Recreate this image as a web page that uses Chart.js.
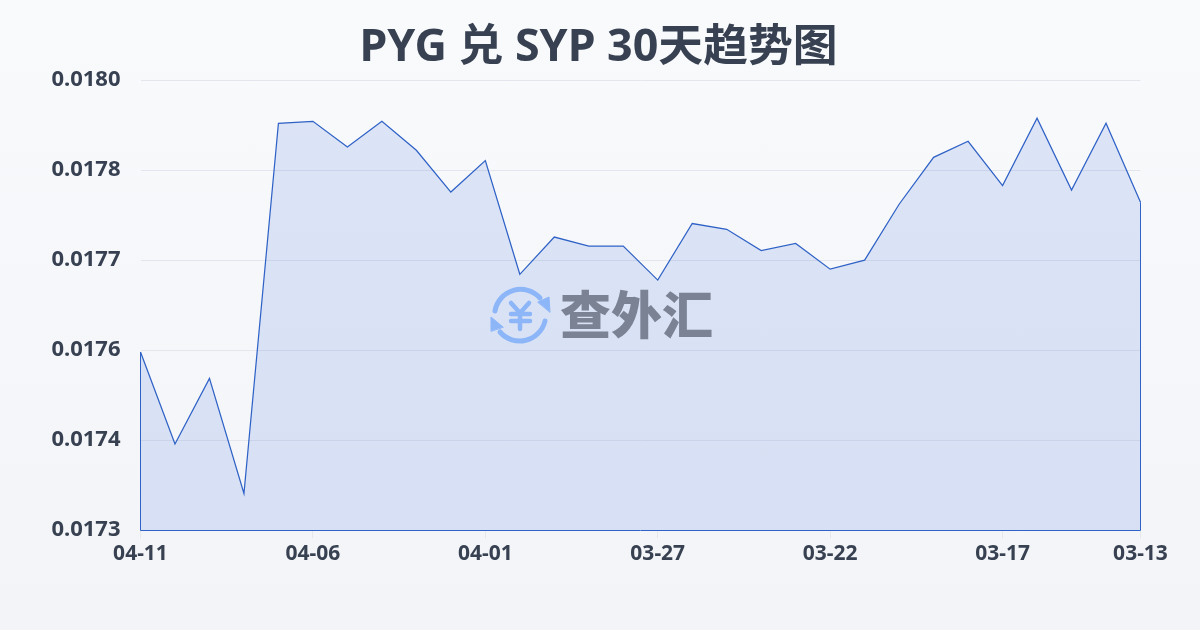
<!DOCTYPE html>
<html>
<head>
<meta charset="utf-8">
<title>PYG 兑 SYP 30天趋势图</title>
<script src="https://cdn.jsdelivr.net/npm/chart.js@4/dist/chart.umd.min.js"></script>
<style>
    html, body { margin: 0; padding: 0; }
    body { width: 1200px; height: 630px; overflow: hidden; position: relative; background: linear-gradient(180deg, #f9fafc 0%, #f2f4f7 100%); }
    #chart { position: absolute; left: 0; top: 0; }
    #title { position: absolute; left: 0; top: 13px; width: 1197px; text-align: center; font: bold 44.8px/62px "Noto Sans", "Noto Sans CJK SC", sans-serif; color: #374151; white-space: nowrap; }
    #logo { position: absolute; left: 488px; top: 282px; }
    #logoText { position: absolute; left: 560px; top: 275px; font: 900 51px/74px "Noto Sans CJK SC", sans-serif; color: #7a8294; white-space: nowrap; }
</style>
</head>
<body>
<canvas id="chart" width="1200" height="630"></canvas>
<div id="title">PYG 兑 SYP 30天趋势图</div>
<svg id="logo" width="66" height="66" viewBox="488 282 66 66" fill="none" stroke="#8db6f8" stroke-width="5" stroke-linecap="round" stroke-linejoin="round">
    <path d="M495 311 A26 26 0 0 1 540 298"/>
    <path d="M545 321 A26 26 0 0 1 500 332"/>
    <path d="M538 302 L549 297 L550 312 Z" fill="#8db6f8" stroke-width="1"/>
    <path d="M503 327 L491 317 L491 331 Z" fill="#8db6f8" stroke-width="1"/>
    <path d="M511 303 L520 313 L529 303 M511 314 H530 M511 321 H530 M520 313 V329" stroke-width="4.5"/>
</svg>
<div id="logoText">查外汇</div>
<script>
const categories = [
    "04-11", "04-10", "04-09", "04-08", "04-07", "04-06", "04-05", "04-04", "04-03", "04-02",
    "04-01", "03-31", "03-30", "03-29", "03-28", "03-27", "03-26", "03-25", "03-24", "03-23",
    "03-22", "03-21", "03-20", "03-19", "03-18", "03-17", "03-16", "03-15", "03-14", "03-13"
];
const rates = [
    0.017577, 0.017434, 0.017536, 0.017357, 0.017933, 0.017936, 0.017896, 0.017936, 0.017891, 0.017826,
    0.017875, 0.017698, 0.017756, 0.017742, 0.017742, 0.017689, 0.017777, 0.017768, 0.017735, 0.017746,
    0.017706, 0.017720, 0.017807, 0.017880, 0.017905, 0.017836, 0.017941, 0.017829, 0.017933, 0.017810
];
const xTickLabels = ["04-11", "04-06", "04-01", "03-27", "03-22", "03-17", "03-13"];
const yTickLabels = ["0.0173", "0.0174", "0.0176", "0.0177", "0.0178", "0.0180"];

const LINE_COLOR = "#2f62c6";
const TEXT_COLOR = "#374151";
const FONT_FAMILY = '"Noto Sans", sans-serif';

// The source chart strokes the closed area, so the sides and the bottom get the line too.
const closeAreaPlugin = {
    id: "closeArea",
    afterDatasetsDraw: (chart) => {
        const points = chart.getDatasetMeta(0).data;
        const first = points[0];
        const last = points[points.length - 1];
        const base = Math.round(chart.scales.y.bottom) + 0.5;
        const { ctx } = chart;
        ctx.save();
        ctx.strokeStyle = LINE_COLOR;
        ctx.lineWidth = 1;
        ctx.beginPath();
        ctx.moveTo(Math.floor(first.x) + 0.5, first.y);
        ctx.lineTo(Math.floor(first.x) + 0.5, base);
        ctx.lineTo(Math.floor(last.x) + 0.5, base);
        ctx.lineTo(Math.floor(last.x) + 0.5, last.y);
        ctx.stroke();
        ctx.restore();
    },
};

new Chart(document.getElementById("chart").getContext("2d"), {
    type: "line",
    data: {
        labels: categories,
        datasets: [{
            data: rates,
            borderColor: LINE_COLOR,
            borderWidth: 1.25,
            backgroundColor: "rgba(59, 110, 220, 0.15)",
            fill: "start",
            pointRadius: 0,
            tension: 0,
        }],
    },
    options: {
        responsive: false,
        animation: false,
        layout: { padding: { left: 0, right: 59.5, top: 80.2, bottom: 0 } },
        plugins: {
            legend: { display: false },
            tooltip: { enabled: false },
        },
        scales: {
            x: {
                grid: { drawOnChartArea: false, drawTicks: true, tickLength: 8, color: "#e5e7eb" },
                border: { display: false },
                afterFit: (scale) => { scale.height = 99.9; },
                ticks: {
                    autoSkip: false,
                    maxRotation: 0,
                    padding: 3,
                    color: TEXT_COLOR,
                    font: { family: FONT_FAMILY, size: 21, weight: "bold" },
                    callback: function (value) {
                        const label = this.getLabelForValue(value);
                        return xTickLabels.includes(label) ? label : null;
                    },
                },
            },
            y: {
                min: 0.0173,
                max: 0.018,
                grid: { drawTicks: false, color: "#e3e6ec" },
                border: { display: false },
                afterFit: (scale) => { scale.width = 140.5; },
                ticks: {
                    stepSize: 0.00014,
                    padding: 20,
                    color: TEXT_COLOR,
                    font: { family: FONT_FAMILY, size: 22, weight: "bold" },
                    callback: (value, index) => yTickLabels[index],
                },
            },
        },
    },
    plugins: [closeAreaPlugin],
});
</script>
</body>
</html>
